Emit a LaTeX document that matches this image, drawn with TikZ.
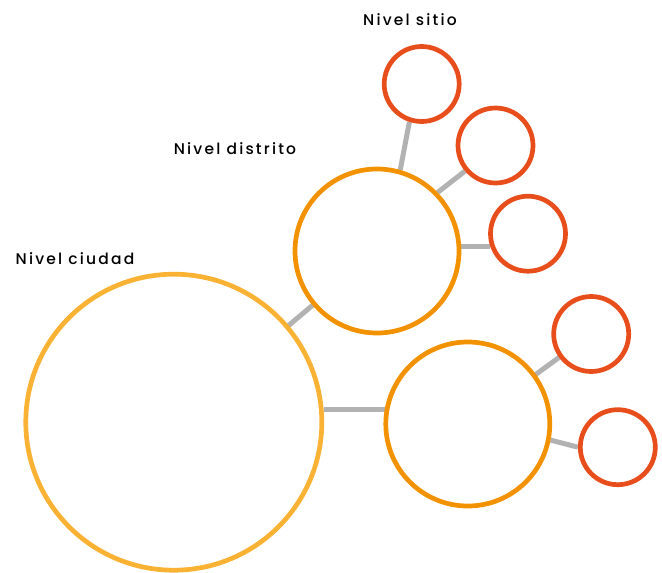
\documentclass[tikz,border=0pt]{standalone}
\usepackage{fontspec}
\setmainfont{Poppins}[UprightFont={* Medium}]
\usetikzlibrary{backgrounds}
\definecolor{cityc}{HTML}{F9B233}
\definecolor{distc}{HTML}{F39200}
\definecolor{sitec}{HTML}{E84E1B}
\definecolor{linkc}{HTML}{B2B2B2}
\begin{document}
\begin{tikzpicture}[x=1pt,y=-1pt,
  ring/.style={circle,draw,line width=4.7pt,fill=white,inner sep=0pt},
  city/.style={ring,draw=cityc,minimum size=296pt},
  dist/.style={ring,draw=distc,minimum size=164pt},
  site/.style={ring,draw=sitec,minimum size=75pt},
  link/.style={draw=linkc,line width=5pt},
  lab/.style={font=\fontsize{15.5}{18}\selectfont\addfontfeature{LetterSpace=14},anchor=base,inner sep=0pt}]
\useasboundingbox (0,0) rectangle (662,573);
\node[city] (big) at (173.8,422.2) {};
\node[dist] (d1) at (377,251) {};
\node[dist] (d2) at (467.8,424) {};
\node[site] (s1) at (421.7,84) {};
\node[site] (s2) at (495.5,145.5) {};
\node[site] (s3) at (528,233.7) {};
\node[site] (s4) at (591.2,334) {};
\node[site] (s5) at (617.8,447.2) {};
\begin{pgfonlayer}{background}
\draw[link] (big.center) -- (d1.center);
\draw[link] (big.5) -- (big.5 -| d2.center);
\draw[link] (d1.74.5) -- (s1.252.9);
\draw[link] (d1.44) -- (s2.220.7);
\draw[link] (s3.199) -- (s3.199 -| d1.center);
\draw[link] (d2.center) -- (s4.center);
\draw[link] (d2.-11) -- (s5.180);
\end{pgfonlayer}
\node[lab] (t1) at (410,25) {Nivel sitio};
\node[lab] (t2) at (235,154) {Nivel distrito};
\node[lab] (t3) at (75,264.7) {Nivel ciudad};
\end{tikzpicture}
\end{document}
